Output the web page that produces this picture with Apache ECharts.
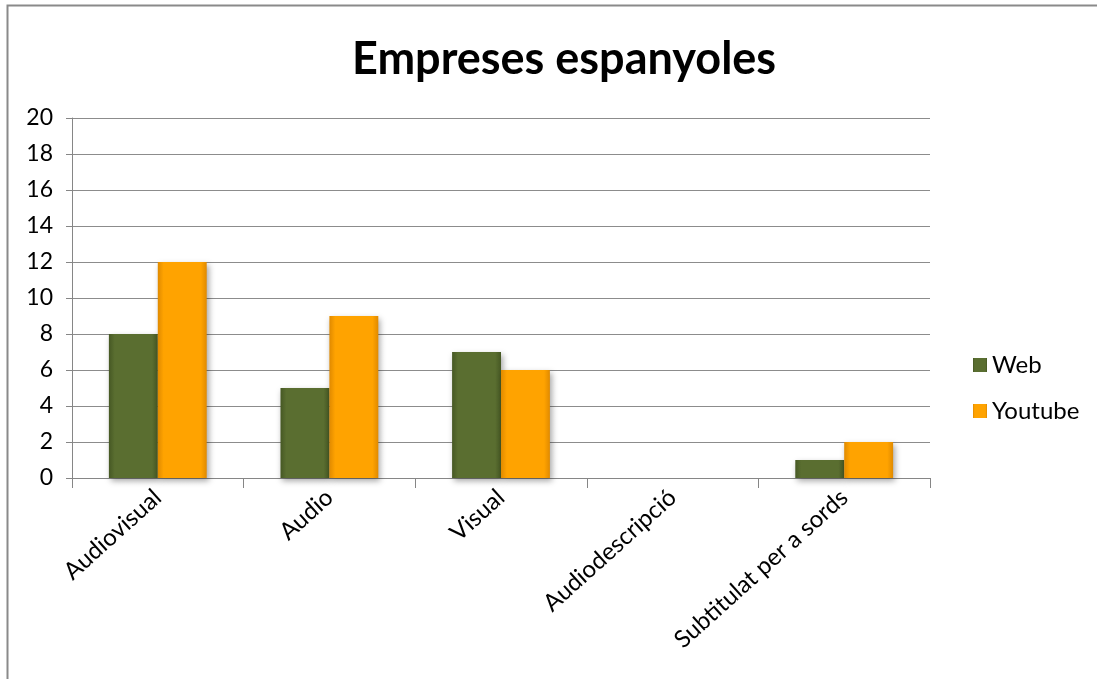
<!DOCTYPE html>
<html><head><meta charset="utf-8">
<script src="https://cdn.jsdelivr.net/npm/echarts@6/dist/echarts.min.js"></script>
<style>html,body{margin:0;padding:0;background:#fff}#c{width:1098px;height:679px}</style>
</head><body><div id="c"></div>
<script>
const categories = ['Audiovisual', 'Audio', 'Visual', 'Audiodescripció', 'Subtitulat per a sords'];
const webValues = [8, 5, 7, 0, 1];
const youtubeValues = [12, 9, 6, 0, 2];
const seriesNames = ['Web', 'Youtube'];
const titleText = 'Empreses espanyoles';

const FONT = 'Lato, "Open Sans", sans-serif';
const chart = echarts.init(document.getElementById('c'));
function grad(dark, mid) {
  return new echarts.graphic.LinearGradient(0, 0, 1, 0, [
    {offset: 0, color: dark}, {offset: 0.12, color: mid}, {offset: 0.88, color: mid}, {offset: 1, color: dark}
  ]);
}
chart.setOption({
  backgroundColor: '#fff',
  animation: false,
  title: {
    text: titleText, left: 347, top: 32,
    textStyle: {fontFamily: FONT, fontSize: 45, fontWeight: 'bold', color: '#000'}
  },
  legend: {
    orient: 'vertical', left: 968, top: 348, itemGap: 22,
    itemWidth: 14, itemHeight: 14, icon: 'rect',
    textStyle: {fontFamily: FONT, fontSize: 24, color: '#000'},
    data: seriesNames
  },
  grid: {left: 72, right: 168, top: 118, bottom: 201},
  xAxis: {
    type: 'category', data: categories,
    axisLine: {lineStyle: {color: '#868686', width: 1}},
    axisTick: {show: true, length: 10, lineStyle: {color: '#868686'}},
    axisLabel: {rotate: 42, fontFamily: FONT, fontSize: 24, color: '#000', margin: 16, interval: 0}
  },
  yAxis: {
    type: 'value', min: 0, max: 20, interval: 2,
    axisLine: {show: true, lineStyle: {color: '#868686'}},
    axisTick: {show: true, length: 6, lineStyle: {color: '#868686'}},
    splitLine: {lineStyle: {color: '#8c8c8c', width: 1}},
    axisLabel: {fontFamily: FONT, fontSize: 23, color: '#000', margin: 19}
  },
  series: [
    {
      name: seriesNames[0], type: 'bar', data: webValues, barGap: '0%', barCategoryGap: '43%',
      itemStyle: {color: grad('#465824', '#5a6e30'), borderWidth: 0,
        shadowBlur: 6, shadowColor: 'rgba(0,0,0,0.35)', shadowOffsetX: 2, shadowOffsetY: 3}
    },
    {
      name: seriesNames[1], type: 'bar', data: youtubeValues,
      itemStyle: {color: grad('#e08a00', '#ffa300'), borderWidth: 0,
        shadowBlur: 6, shadowColor: 'rgba(0,0,0,0.35)', shadowOffsetX: 2, shadowOffsetY: 3}
    }
  ],
  graphic: [{
    type: 'polyline', silent: true,
    shape: {points: [[7.5, 679], [7.5, 5.5], [1097, 5.5]]},
    style: {stroke: '#8a8a8a', lineWidth: 2, fill: null}
  }]
});
</script>
</body></html>
